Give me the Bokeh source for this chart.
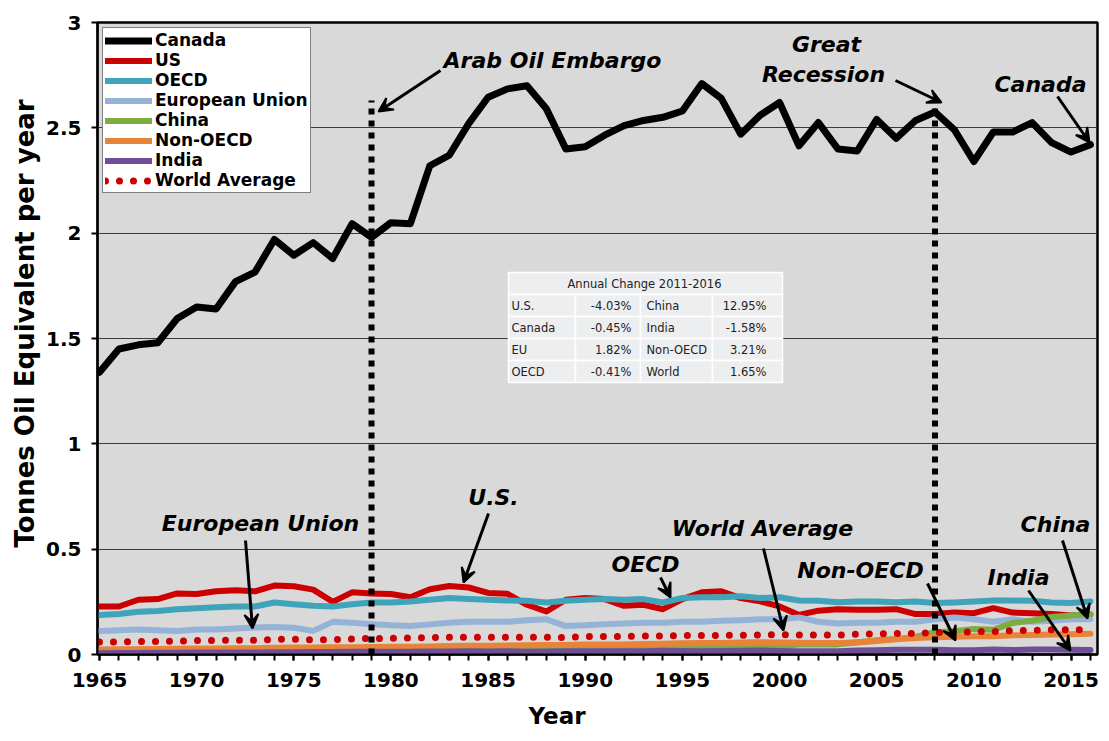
from bokeh.plotting import figure
from bokeh.models import (Range1d, FixedTicker, Legend, LegendItem, Arrow, VeeHead,
                          Label, ColumnDataSource, Title)
from bokeh.core.properties import value
from bokeh.embed import file_html
from bokeh.resources import INLINE

# ---------------- data ----------------
years = list(range(1965, 2017))

canada = [1.34, 1.45, 1.47, 1.48, 1.595, 1.65, 1.64, 1.77, 1.815, 1.97,
          1.895, 1.955, 1.88, 2.045, 1.98, 2.05, 2.045, 2.32, 2.37, 2.52,
          2.645, 2.685, 2.70, 2.59, 2.40, 2.41, 2.465, 2.51, 2.535, 2.55,
          2.58, 2.71, 2.64, 2.47, 2.56, 2.62, 2.415, 2.525, 2.40, 2.39,
          2.54, 2.45, 2.535, 2.575, 2.49, 2.34, 2.48, 2.48, 2.525, 2.43,
          2.385, 2.42]

us = [0.228, 0.228, 0.26, 0.263, 0.29, 0.287, 0.30, 0.305, 0.30, 0.327,
      0.324, 0.308, 0.25, 0.295, 0.29, 0.287, 0.272, 0.31, 0.325, 0.318,
      0.292, 0.288, 0.236, 0.204, 0.26, 0.268, 0.263, 0.231, 0.236, 0.215,
      0.263, 0.295, 0.30, 0.268, 0.252, 0.228, 0.188, 0.208, 0.215, 0.212,
      0.212, 0.215, 0.192, 0.192, 0.199, 0.196, 0.22, 0.199, 0.196, 0.192,
      0.185, 0.19]

oecd = [0.188, 0.192, 0.203, 0.207, 0.215, 0.22, 0.224, 0.228, 0.228, 0.247,
        0.239, 0.231, 0.228, 0.239, 0.247, 0.247, 0.252, 0.26, 0.268, 0.263,
        0.26, 0.256, 0.255, 0.247, 0.255, 0.26, 0.263, 0.26, 0.263, 0.247,
        0.268, 0.272, 0.272, 0.276, 0.268, 0.272, 0.256, 0.255, 0.248, 0.252,
        0.252, 0.248, 0.252, 0.244, 0.247, 0.252, 0.256, 0.256, 0.255, 0.247,
        0.244, 0.252]

eu = [0.112, 0.115, 0.119, 0.115, 0.112, 0.119, 0.119, 0.123, 0.128, 0.131,
      0.127, 0.112, 0.155, 0.151, 0.144, 0.139, 0.135, 0.143, 0.151, 0.155,
      0.155, 0.155, 0.163, 0.167, 0.135, 0.139, 0.144, 0.147, 0.151, 0.151,
      0.155, 0.155, 0.16, 0.163, 0.167, 0.167, 0.176, 0.155, 0.147, 0.151,
      0.151, 0.155, 0.155, 0.167, 0.176, 0.167, 0.155, 0.167, 0.155, 0.16,
      0.167, 0.167]

china = [0.003, 0.003, 0.003, 0.003, 0.004, 0.005, 0.006, 0.006, 0.008, 0.008,
         0.010, 0.010, 0.009, 0.011, 0.012, 0.013, 0.014, 0.016, 0.018, 0.019,
         0.020, 0.020, 0.021, 0.022, 0.023, 0.025, 0.025, 0.026, 0.030, 0.032,
         0.036, 0.035, 0.037, 0.038, 0.037, 0.040, 0.047, 0.049, 0.048, 0.057,
         0.068, 0.074, 0.083, 0.106, 0.110, 0.121, 0.117, 0.150, 0.160, 0.178,
         0.185, 0.192]

non_oecd = [0.024, 0.025, 0.025, 0.026, 0.027, 0.028, 0.029, 0.030, 0.030, 0.032,
            0.033, 0.033, 0.034, 0.035, 0.036, 0.037, 0.037, 0.038, 0.040, 0.041,
            0.042, 0.043, 0.044, 0.045, 0.045, 0.047, 0.048, 0.048, 0.050, 0.051,
            0.053, 0.054, 0.055, 0.057, 0.058, 0.057, 0.056, 0.055, 0.054, 0.058,
            0.064, 0.072, 0.078, 0.082, 0.084, 0.087, 0.087, 0.091, 0.093, 0.095,
            0.096, 0.099]

india = [0.006, 0.007, 0.007, 0.008, 0.008, 0.009, 0.010, 0.010, 0.010, 0.011,
         0.011, 0.012, 0.012, 0.013, 0.013, 0.013, 0.013, 0.014, 0.014, 0.015,
         0.014, 0.015, 0.013, 0.014, 0.015, 0.016, 0.016, 0.016, 0.016, 0.018,
         0.017, 0.016, 0.017, 0.018, 0.019, 0.017, 0.016, 0.015, 0.016, 0.019,
         0.020, 0.022, 0.023, 0.023, 0.020, 0.020, 0.024, 0.021, 0.024, 0.024,
         0.022, 0.021]

world = [0.059, 0.060, 0.061, 0.062, 0.064, 0.066, 0.067, 0.068, 0.068, 0.072,
         0.072, 0.070, 0.071, 0.074, 0.076, 0.077, 0.078, 0.080, 0.082, 0.082,
         0.082, 0.082, 0.081, 0.082, 0.081, 0.086, 0.086, 0.085, 0.088, 0.088,
         0.090, 0.090, 0.091, 0.091, 0.093, 0.094, 0.092, 0.093, 0.092, 0.096,
         0.098, 0.100, 0.100, 0.104, 0.104, 0.109, 0.109, 0.113, 0.115, 0.117,
         0.117, 0.119]

series_names = ["Canada", "US", "OECD", "European Union", "China", "Non-OECD", "India", "World Average"]

x_ticks = list(range(1965, 2016, 5))
y_ticks = [0, 0.5, 1, 1.5, 2, 2.5, 3]
y_tick_labels = ["0", "0.5", "1", "1.5", "2", "2.5", "3"]
x_title = "Year"
y_title = "Tonnes Oil Equivalent per year"

events = ["Arab Oil Embargo", "Great Recession"]
event_years = [1979, 2008]
event_tops = [2.63, 2.615]

tbl_title = "Annual Change 2011-2016"
tbl_left = ["U.S.", "Canada", "EU", "OECD"]
tbl_left_vals = ["-4.03%", "-0.45%", "1.82%", "-0.41%"]
tbl_right = ["China", "India", "Non-OECD", "World"]
tbl_right_vals = ["12.95%", "-1.58%", "3.21%", "1.65%"]

# ---------------- geometry helpers (screen px of reference -> data) ----------------
XS = 19.43       # px per year
YS = 210.667     # px per unit


def px2x(px):
    return 1965 + (px - 99) / XS


def px2y(py):
    return (654 - py) / YS


FONT = "DejaVu Sans"

W, H = 1103, 741
p = figure(width=W, height=H, output_backend="svg", toolbar_location=None,
           x_range=Range1d(px2x(97), px2x(1097)), y_range=Range1d(0, 3),
           min_border_left=97, min_border_right=6, min_border_top=22,
           min_border_bottom=87)

p.background_fill_color = "#D9D9D9"
p.border_fill_color = "white"
p.outline_line_color = "black"
p.outline_line_width = 2.5

# axes
p.xaxis.ticker = FixedTicker(ticks=x_ticks, minor_ticks=years)
p.yaxis.ticker = FixedTicker(ticks=y_ticks)
p.yaxis.major_label_overrides = {t: l for t, l in zip(y_ticks, y_tick_labels)}
for ax in (p.xaxis, p.yaxis):
    ax.axis_line_color = "black"
    ax.axis_line_width = 2
    ax.major_tick_line_color = "black"
    ax.major_tick_line_width = 2
    ax.major_tick_in = 0
    ax.major_tick_out = 6
    ax.major_label_text_font = FONT
    ax.major_label_text_font_style = "bold"
    ax.major_label_text_font_size = "20px"
    ax.major_label_text_color = "black"
p.xaxis.minor_tick_line_color = "black"
p.xaxis.minor_tick_line_width = 2
p.xaxis.minor_tick_in = 0
p.xaxis.minor_tick_out = 6
p.yaxis.minor_tick_line_color = None
p.xaxis.major_label_standoff = 12
p.yaxis.major_label_standoff = 10

p.xgrid.grid_line_color = None
p.ygrid.grid_line_color = "#3a3a3a"
p.ygrid.grid_line_width = 1

# axis titles as side titles, so they can sit off-centre like the original
p.add_layout(Title(text=y_title, align="left", offset=107, standoff=7,
                   text_font=FONT, text_font_style="bold", text_font_size="26px",
                   text_color="black"), "left")
p.add_layout(Title(text=x_title, align="left", offset=431, standoff=23,
                   text_font=FONT, text_font_style="bold", text_font_size="23px",
                   text_color="black"), "below")

# ---------------- table (drawn first, below lines) ----------------
tx0, tx1 = 508, 782
cols = [508, 575, 640, 712, 782]
hy0, hy1 = 272, 294
rh = 22
qs = dict(left=[], right=[], top=[], bottom=[])
qs["left"].append(px2x(tx0)); qs["right"].append(px2x(tx1))
qs["top"].append(px2y(hy0)); qs["bottom"].append(px2y(hy1))
for i in range(len(tbl_left)):
    for c in range(4):
        qs["left"].append(px2x(cols[c])); qs["right"].append(px2x(cols[c + 1]))
        qs["top"].append(px2y(hy1 + rh * i)); qs["bottom"].append(px2y(hy1 + rh * (i + 1)))
p.quad(source=ColumnDataSource(qs), fill_color="#EDEEF0", line_color="white", line_width=1.5)

row_y = [px2y(hy1 + rh * i + rh / 2) for i in range(len(tbl_left))]
tstyle = dict(text_font=value(FONT), text_font_size="11.5px", text_color="#222222",
              text_baseline="middle")
p.text(x=[px2x(644)], y=[px2y((hy0 + hy1) / 2)], text=[tbl_title], text_align="center", **tstyle)
p.text(x=[px2x(511)] * 4, y=row_y, text=tbl_left, text_align="left", **tstyle)
p.text(x=[px2x(631)] * 4, y=row_y, text=tbl_left_vals, text_align="right", **tstyle)
p.text(x=[px2x(646)] * 4, y=row_y, text=tbl_right, text_align="left", **tstyle)
p.text(x=[px2x(766)] * 4, y=row_y, text=tbl_right_vals, text_align="right", **tstyle)

# ---------------- series ----------------
colors = ["#000000", "#CC0000", "#3FA3BA", "#95B3D7", "#7AAE40", "#E8843A", "#6E4F96", "#CC0000"]
data = [canada, us, oecd, eu, china, non_oecd, india]
renderers = []
for name, col, ys in zip(series_names[:-1], colors[:-1], data):
    r = p.line(years, ys, line_color=col, line_width=7 if name == "Canada" else 6,
               line_join="round", line_cap="round")
    renderers.append(r)
rw = p.line(years, world, line_color=colors[-1], line_width=7, line_dash="0 14",
            line_cap="round")
renderers.append(rw)

# event dotted lines
p.segment(x0=event_years, y0=[0, 0], x1=event_years, y1=event_tops,
          line_color="black", line_width=6, line_dash="6 6")

# ---------------- legend ----------------
legend = Legend(items=[LegendItem(label=n, renderers=[r]) for n, r in zip(series_names, renderers)],
                location="top_left", margin=5, padding=2, spacing=0,
                glyph_width=47, glyph_height=19, label_height=19, label_standoff=3,
                label_text_font=FONT, label_text_font_style="bold",
                label_text_font_size="17px", label_text_line_height=1.0,
                label_text_color="black",
                border_line_color="black", border_line_width=1.5,
                background_fill_color="white", background_fill_alpha=1.0)
p.add_layout(legend)

# ---------------- annotations ----------------
ann_texts = ["Arab Oil Embargo", "Great", "Recession", "Canada", "European Union", "U.S.",
             "OECD", "World Average", "Non-OECD", "India", "China"]
ann_px = [(552, 60), (826, 44), (823, 74), (1040, 84), (260, 523), (493, 497),
          (645, 564), (762, 528), (860, 570), (1018, 577), (1055, 524)]
for t, (ax_, ay_) in zip(ann_texts, ann_px):
    p.add_layout(Label(x=px2x(ax_), y=px2y(ay_), text=t, text_align="center",
                       text_baseline="middle", text_font=FONT, text_font_style="bold italic",
                       text_font_size="22px", text_color="black"))

arrows_px = [((440, 70), (378, 111)), ((895, 80), (941, 102)), ((1057, 96), (1089, 142)),
             ((245, 540), (252, 628)), ((488, 513), (463, 582)), ((660, 577), (670, 597)),
             ((763, 548), (783, 630)), ((927, 583), (955, 640)), ((1028, 590), (1070, 650)),
             ((1062, 540), (1087, 618))]
for (sx, sy), (ex, ey) in arrows_px:
    p.add_layout(Arrow(end=VeeHead(size=14, line_color="black", fill_color="black", line_width=2),
                       x_start=px2x(sx), y_start=px2y(sy), x_end=px2x(ex), y_end=px2y(ey),
                       line_color="black", line_width=3))

open("out.html", "w").write(file_html(p, INLINE))
